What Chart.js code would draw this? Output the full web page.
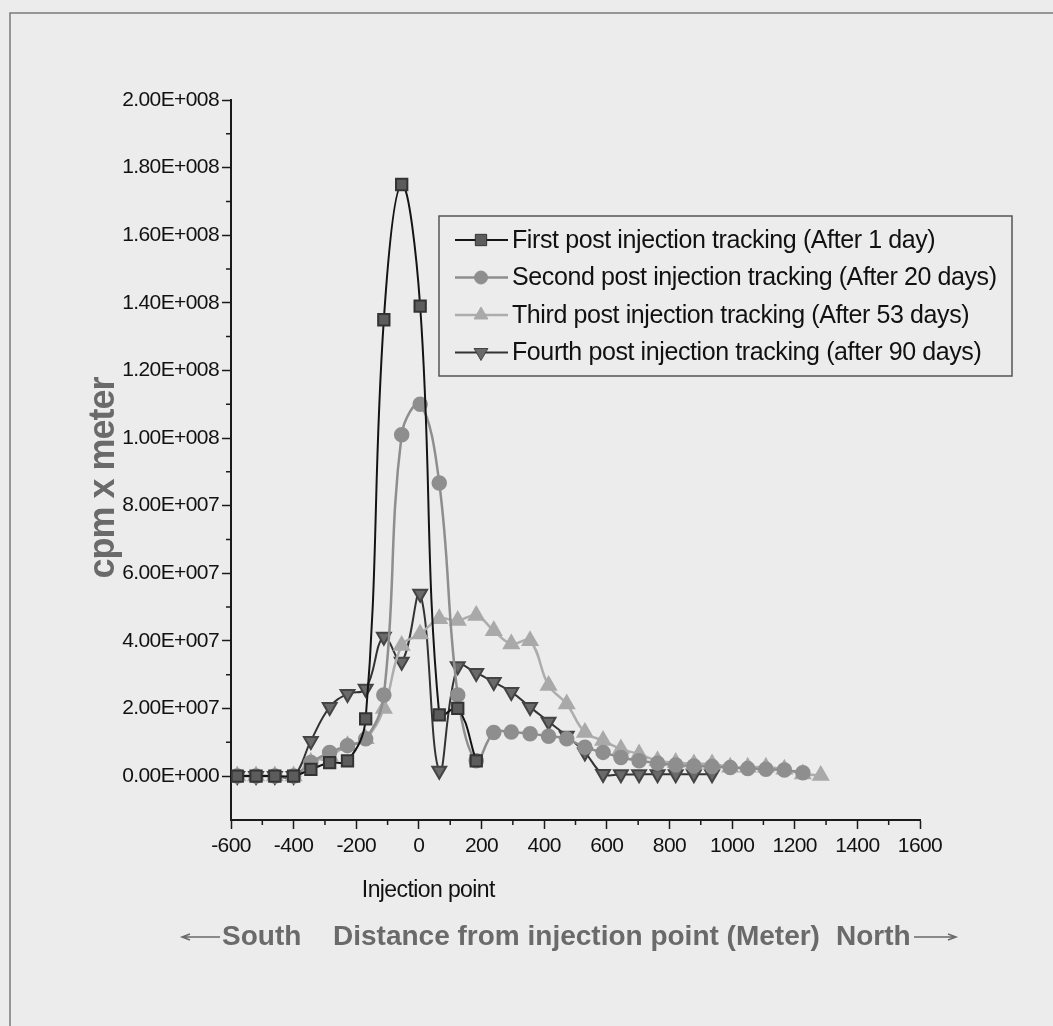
<!DOCTYPE html>
<html>
<head>
<meta charset="utf-8">
<script src="https://cdn.jsdelivr.net/npm/chart.js@4.4.0/dist/chart.umd.min.js"></script>
<style>
  html, body { margin: 0; padding: 0; background: #ececec; }
  #wrap { position: relative; width: 1053px; height: 1026px; }
</style>
</head>
<body>
<div id="wrap"><canvas id="myChart" width="1053" height="1026"></canvas></div>
<script>
// distance from injection point (meter), shared by the four trackings
var distances = [-580, -520, -460, -400, -345, -285, -228, -170, -112, -55, 4, 65, 124, 183, 239, 295, 355, 414, 472, 530, 588, 645, 703, 762, 820, 878, 936, 994, 1050, 1108, 1167, 1226, 1283];

// cpm x meter
var firstTracking  = [0, 0, 0, 0, 0.2e7, 0.4e7, 0.45e7, 1.69e7, 1.35e8, 1.75e8, 1.39e8, 1.81e7, 2.0e7, 0.45e7];
var secondTracking = [0, 0, 0, 0, 0.4e7, 0.7e7, 0.9e7, 1.1e7, 2.4e7, 1.01e8, 1.10e8, 8.67e7, 2.4e7, 0.45e7, 1.29e7, 1.30e7, 1.25e7, 1.18e7, 1.10e7, 0.85e7, 0.70e7, 0.55e7, 0.45e7, 0.38e7, 0.33e7, 0.30e7, 0.28e7, 0.25e7, 0.22e7, 0.20e7, 0.18e7, 0.10e7];
var thirdTracking  = [0, 0, 0, 0, 0.4e7, 0.6e7, 0.9e7, 1.1e7, 2.0e7, 3.86e7, 4.2e7, 4.65e7, 4.6e7, 4.75e7, 4.3e7, 3.91e7, 4.0e7, 2.68e7, 2.13e7, 1.29e7, 1.05e7, 0.8e7, 0.65e7, 0.45e7, 0.4e7, 0.36e7, 0.36e7, 0.26e7, 0.26e7, 0.26e7, 0.2e7, 0.06e7, 0.02e7];
var fourthTracking = [0, 0, 0, 0, 1.04e7, 2.04e7, 2.43e7, 2.58e7, 4.12e7, 3.38e7, 5.39e7, 0.16e7, 3.25e7, 3.05e7, 2.78e7, 2.49e7, 2.04e7, 1.61e7, 1.19e7, 0.70e7, 0.06e7, 0.05e7, 0.05e7, 0.05e7, 0.05e7, 0.05e7, 0.05e7];

var seriesLabels = [
  "First post injection tracking (After 1 day)",
  "Second post injection tracking (After 20 days)",
  "Third post injection tracking (After 53 days)",
  "Fourth post injection tracking (after 90 days)"
];

var xTickValues = [-600, -400, -200, 0, 200, 400, 600, 800, 1000, 1200, 1400, 1600];
var yTickValues = [0, 2e7, 4e7, 6e7, 8e7, 1e8, 1.2e8, 1.4e8, 1.6e8, 1.8e8, 2e8];

var SANS = "'Liberation Sans', Arial, sans-serif";

function toPoints(vals) {
  var pts = [];
  for (var i = 0; i < vals.length; i++) {
    if (vals[i] !== null) pts.push({x: distances[i], y: vals[i]});
  }
  return pts;
}

// 2.00E+008 style
function sci(v) {
  var s = Number(v).toExponential(2).split('e');
  var exp = parseInt(s[1], 10);
  return s[0] + 'E' + (exp < 0 ? '-' : '+') + String(Math.abs(exp)).padStart(3, '0');
}

var extras = {
  id: 'extras',
  beforeDraw: function(chart) {
    // the original font is squeezed tight
    chart.ctx.letterSpacing = '-0.6px';
  },
  afterDraw: function(chart) {
    var ctx = chart.ctx;
    var xs = chart.scales.x, ys = chart.scales.y;
    ctx.save();

    // page frame
    ctx.strokeStyle = '#7a7a7a';
    ctx.lineWidth = 1.5;
    ctx.beginPath();
    ctx.moveTo(10, 1026); ctx.lineTo(10, 13); ctx.lineTo(1053, 13);
    ctx.stroke();

    // minor ticks
    ctx.strokeStyle = '#1a1a1a';
    ctx.lineWidth = 1.5;
    ctx.beginPath();
    for (var v = -500; v < 1600; v += 200) {
      var px = xs.getPixelForValue(v);
      ctx.moveTo(px, xs.top); ctx.lineTo(px, xs.top + 5);
    }
    for (var w = 1e7; w < 2e8; w += 2e7) {
      var py = ys.getPixelForValue(w);
      ctx.moveTo(ys.right, py); ctx.lineTo(ys.right - 5, py);
    }
    ctx.stroke();

    // y axis title
    ctx.save();
    ctx.translate(104, 478);
    ctx.rotate(-Math.PI / 2);
    ctx.fillStyle = '#6a6a6a';
    ctx.font = "bold 36px " + SANS;
    ctx.letterSpacing = '-1px';
    ctx.textAlign = 'center';
    ctx.textBaseline = 'middle';
    ctx.fillText('cpm x meter', 0, 0);
    ctx.restore();

    // x axis texts
    ctx.fillStyle = '#111';
    ctx.font = "23px " + SANS;
    ctx.textAlign = 'center';
    ctx.textBaseline = 'middle';
    ctx.fillText('Injection point', xs.getPixelForValue(30), 891);

    var yb = 937;
    ctx.fillStyle = '#6a6a6a';
    ctx.font = "bold 28px " + SANS;
    ctx.letterSpacing = '0px';
    ctx.textAlign = 'left';
    ctx.fillText('South', 222, yb);
    ctx.fillText('Distance from injection point (Meter)', 333, yb);
    ctx.fillText('North', 836, yb);
    ctx.strokeStyle = '#6a6a6a';
    ctx.lineWidth = 1.5;
    ctx.beginPath();
    ctx.moveTo(182, yb); ctx.lineTo(220, yb);
    ctx.moveTo(190, yb - 3); ctx.lineTo(182, yb); ctx.lineTo(190, yb + 3);
    ctx.moveTo(914, yb); ctx.lineTo(956, yb);
    ctx.moveTo(948, yb - 3); ctx.lineTo(956, yb); ctx.lineTo(948, yb + 3);
    ctx.stroke();

    // legend box
    var lx = 439, ly = 216, lw = 573, lh = 160;
    ctx.strokeStyle = '#555';
    ctx.lineWidth = 1.5;
    ctx.strokeRect(lx, ly, lw, lh);
    ctx.font = "25px " + SANS;
    ctx.letterSpacing = '-0.4px';
    ctx.textBaseline = 'middle';
    chart.data.datasets.forEach(function(ds, i) {
      var ry = 240 + i * 37.5;
      ctx.strokeStyle = ds.borderColor;
      ctx.lineWidth = ds.borderWidth;
      ctx.beginPath();
      ctx.moveTo(455, ry); ctx.lineTo(508, ry);
      ctx.stroke();
      ctx.fillStyle = ds.pointBackgroundColor;
      ctx.strokeStyle = ds.pointBorderColor;
      ctx.lineWidth = 1;
      Chart.helpers.drawPoint(ctx, {
        pointStyle: ds.pointStyle, radius: ds.pointRadius,
        rotation: ds.pointRotation || 0, borderWidth: 1
      }, 481, ry);
      ctx.fillStyle = '#111';
      ctx.fillText(ds.label, 512, ry + 1);
    });

    ctx.restore();
  }
};

new Chart("myChart", {
  type: "line",
  data: {
    datasets: [{
      label: seriesLabels[0],
      data: toPoints(firstTracking),
      borderColor: "#141414", borderWidth: 2,
      pointStyle: "rect", pointRadius: 8,
      pointBackgroundColor: "#5c5c5c", pointBorderColor: "#333"
    }, {
      label: seriesLabels[1],
      data: toPoints(secondTracking),
      borderColor: "#8e8e8e", borderWidth: 2.5,
      pointStyle: "circle", pointRadius: 6.5,
      pointBackgroundColor: "#8e8e8e", pointBorderColor: "#8e8e8e"
    }, {
      label: seriesLabels[2],
      data: toPoints(thirdTracking),
      borderColor: "#adadad", borderWidth: 2.5,
      pointStyle: "triangle", pointRadius: 8,
      pointBackgroundColor: "#a9a9a9", pointBorderColor: "#a9a9a9"
    }, {
      label: seriesLabels[3],
      data: toPoints(fourthTracking),
      borderColor: "#333", borderWidth: 2,
      pointStyle: "triangle", pointRotation: 180, pointRadius: 8,
      pointBackgroundColor: "#6a6a6a", pointBorderColor: "#444"
    }]
  },
  options: {
    responsive: false,
    animation: false,
    layout: { padding: { top: 100, right: 133, left: 0, bottom: 0 } },
    elements: { line: { tension: 0.4, fill: false } },
    plugins: { legend: { display: false }, tooltip: { enabled: false } },
    scales: {
      x: {
        type: "linear", min: -600, max: 1600,
        afterBuildTicks: function(s) { s.ticks = xTickValues.map(function(v) { return {value: v}; }); },
        afterFit: function(s) { s.height = 1026 - 820; },
        border: { display: true, color: "#1a1a1a", width: 2 },
        grid: { drawOnChartArea: false, drawTicks: true, tickLength: 9, tickColor: "#1a1a1a", tickWidth: 1.5 },
        ticks: {
          color: "#111", padding: 5, maxRotation: 0, autoSkip: false,
          font: { family: SANS, size: 21 },
          callback: function(v) { return String(v); }
        }
      },
      y: {
        type: "linear", min: -1.3e7, max: 2e8,
        afterBuildTicks: function(s) { s.ticks = yTickValues.map(function(v) { return {value: v}; }); },
        afterFit: function(s) { s.width = 231; },
        border: { display: true, color: "#1a1a1a", width: 2 },
        grid: { drawOnChartArea: false, drawTicks: true, tickLength: 9, tickColor: "#1a1a1a", tickWidth: 1.5 },
        ticks: {
          color: "#111", padding: 3, autoSkip: false,
          font: { family: SANS, size: 21 },
          callback: function(v) { return sci(v); }
        }
      }
    }
  },
  plugins: [extras]
});
</script>
</body>
</html>
